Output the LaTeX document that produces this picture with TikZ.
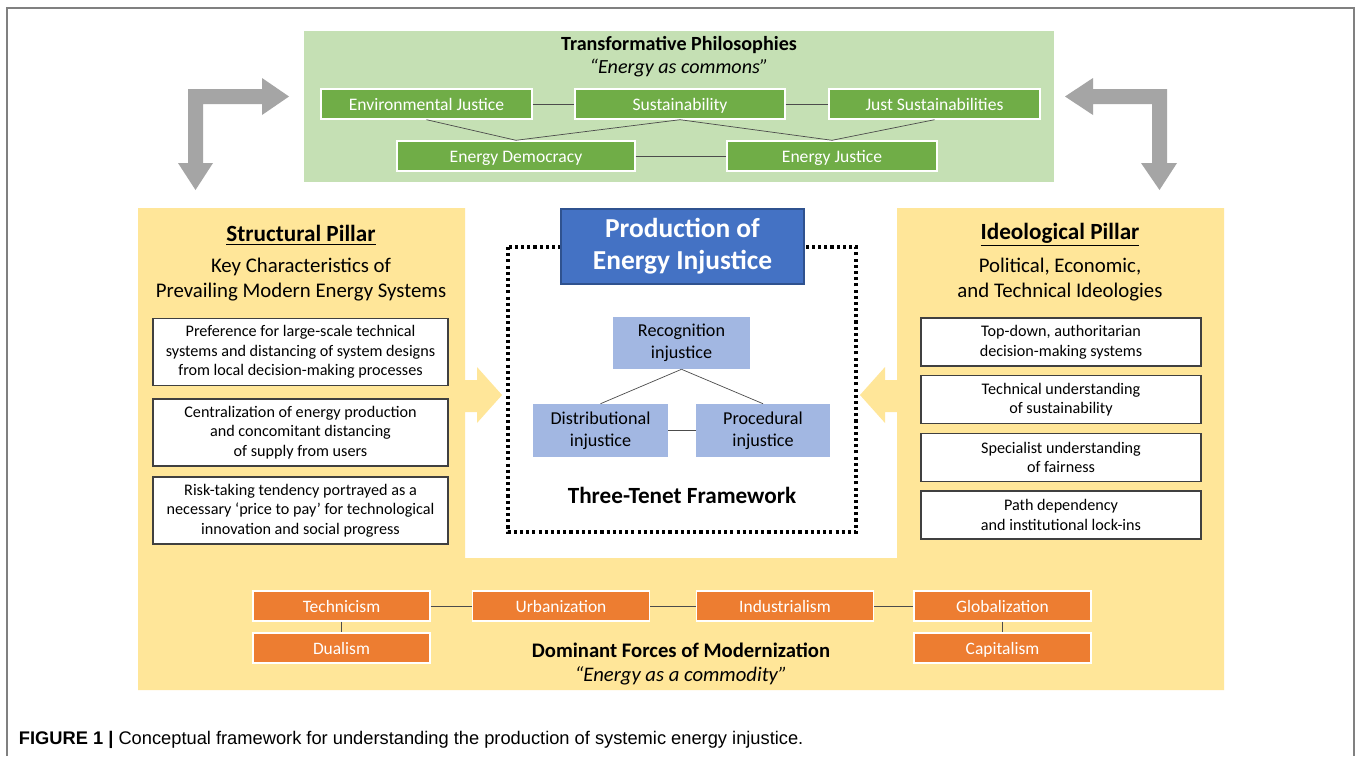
\documentclass[tikz,border=0pt]{standalone}
\usepackage{fontspec}
\setmainfont{Carlito}
\newfontfamily\capfont{Liberation Sans}
\usepackage{tikz}
\usetikzlibrary{calc}

\definecolor{commonsgreen}{HTML}{C5E0B4}
\definecolor{philgreen}{HTML}{70AD47}
\definecolor{loopgray}{HTML}{A5A5A5}
\definecolor{pillaryellow}{HTML}{FFE699}
\definecolor{injblue}{HTML}{4472C4}
\definecolor{injblueline}{HTML}{2F528F}
\definecolor{tenetblue}{HTML}{A2B7E2}
\definecolor{forceorange}{HTML}{ED7D31}

\tikzset{
    philbox/.style = {draw = white, line width = 1pt, fill = philgreen, text = white, minimum height = 0.75cm, inner sep = 0pt, text height = 2.1ex, text depth = 0.3ex, font = \fontsize{12.5}{14}\selectfont},
    forcebox/.style = {draw = white, line width = 1pt, fill = forceorange, text = white, minimum width = 4.425cm, minimum height = 0.75cm, inner sep = 0pt, text height = 2.1ex, text depth = 0.3ex, font = \fontsize{12.4}{14}\selectfont},
    charbox/.style = {draw = black!75, line width = 0.8pt, fill = white, align = center, inner sep = 0pt, font = \fontsize{11.5}{13.9}\selectfont},
    tenetbox/.style = {fill = tenetblue, align = center, inner sep = 0pt, font = \fontsize{12.9}{16}\selectfont},
    link/.style = {black!70, line width = 0.5pt}
}

\begin{document}
\begin{tikzpicture}[x = 0.025cm, y = -0.025cm]
            \useasboundingbox (0, 0) rectangle (1358, 756);
            \fill[white](0, 0) rectangle (1358, 756);
            \draw[gray, line width = 1.2pt](7, 756) -- (7, 8) -- (1354, 8) -- (1354, 756);

            \fill[commonsgreen](304, 31) rectangle (1054, 182);
            \node[font = \bfseries\fontsize{14.3}{16}\selectfont] (philtitle) at (679, 45) {Transformative Philosophies};
            \node[font = \itshape\fontsize{14.3}{16}\selectfont] (philsub) at (679, 68) {``Energy as commons''};

            \node[philbox, minimum width = 5.275cm] (envj) at (426.5, 104) {Environmental Justice};
            \node[philbox, minimum width = 5.25cm] (sust) at (680, 104) {Sustainability};
            \node[philbox, minimum width = 5.275cm] (justs) at (934.5, 104) {Just Sustainabilities};
            \node[philbox, minimum width = 5.95cm] (endem) at (516, 156) {Energy Democracy};
            \node[philbox, minimum width = 5.25cm] (enjus) at (832, 156) {Energy Justice};
            \draw[link](envj) -- (sust);
            \draw[link](sust) -- (justs);
            \draw[link](endem) -- (enjus);
            \draw[link](envj.south) -- (endem.north);
            \draw[link](sust.south) -- (endem.north);
            \draw[link](sust.south) -- (enjus.north);
            \draw[link](justs.south) -- (enjus.north);

            \fill[loopgray](188, 89) -- (262, 89) -- (262, 78) -- (289, 96.5) -- (262, 115) -- (262, 104) -- (203, 104) -- (203, 163) -- (213, 163) -- (195.5, 190) -- (178, 163) -- (188, 163) -- cycle;
            \fill[loopgray](1167, 89) -- (1093, 89) -- (1093, 78) -- (1065, 96.5) -- (1093, 115) -- (1093, 104) -- (1152, 104) -- (1152, 163) -- (1141, 163) -- (1159.5, 190) -- (1177, 163) -- (1167, 163) -- cycle;

            \fill[pillaryellow](138, 208) -- (465, 208) -- (465, 380) -- (477, 380) -- (477, 367) -- (502, 395) -- (477, 423) -- (477, 412) -- (465, 412) -- (465, 558) -- (897, 558) -- (897, 412) -- (885, 412) -- (885, 423) -- (860, 395) -- (885, 367) -- (885, 380) -- (897, 380) -- (897, 208) -- (1224, 208) -- (1224, 690) -- (138, 690) -- cycle;

            \node[font = \bfseries\fontsize{16.5}{18}\selectfont] (structtitle) at (301, 235) {\underline{Structural Pillar}};
            \node[align = center, font = \fontsize{14.8}{17.8}\selectfont] (structsub) at (301, 280) {Key Characteristics of\\Prevailing Modern Energy Systems};
            \node[charbox, minimum width = 7.375cm, minimum height = 1.675cm] (largescale) at (300.5, 352) {Preference for large-scale technical\\systems and distancing of system designs\\from local decision-making processes};
            \node[charbox, minimum width = 7.375cm, minimum height = 1.675cm] (central) at (300.5, 432.5) {Centralization of energy production\\and concomitant distancing\\of supply from users};
            \node[charbox, minimum width = 7.375cm, minimum height = 1.675cm] (risk) at (300.5, 510.5) {Risk-taking tendency portrayed as a\\necessary `price to pay' for technological\\innovation and social progress};

            \node[font = \bfseries\fontsize{16.5}{18}\selectfont] (ideotitle) at (1060, 235) {\underline{Ideological Pillar}};
            \node[align = center, font = \fontsize{14.8}{17.8}\selectfont] (ideosub) at (1060, 280) {Political, Economic,\\and Technical Ideologies};
            \node[charbox, minimum width = 7cm, minimum height = 1.2cm] (topdown) at (1061, 342) {Top-down, authoritarian\\decision-making systems};
            \node[charbox, minimum width = 7cm, minimum height = 1.2cm] (techsust) at (1061, 399.5) {Technical understanding\\of sustainability};
            \node[charbox, minimum width = 7cm, minimum height = 1.2cm] (fairness) at (1061, 457.5) {Specialist understanding\\of fairness};
            \node[charbox, minimum width = 7cm, minimum height = 1.2cm] (lockin) at (1061, 515) {Path dependency\\and institutional lock-ins};

            \draw[black, line width = 2.2pt, dash pattern = on 2.2pt off 2.2pt](508, 247) rectangle (856, 532);
            \node[draw = injblueline, line width = 0.8pt, fill = injblue, text = white, align = center, minimum width = 6.075cm, minimum height = 1.875cm, inner sep = 0pt, font = \bfseries\fontsize{19.5}{22.8}\selectfont] (production) at (682.5, 246.5) {Production of\\Energy Injustice};
            \node[tenetbox, minimum width = 3.425cm, minimum height = 1.3cm] (recog) at (681.5, 343) {Recognition\\injustice};
            \node[tenetbox, minimum width = 3.375cm, minimum height = 1.325cm] (distrib) at (600.5, 430.5) {Distributional\\injustice};
            \node[tenetbox, minimum width = 3.35cm, minimum height = 1.325cm] (proced) at (763, 430.5) {Procedural\\injustice};
            \draw[link](recog.south) -- (distrib.north);
            \draw[link](recog.south) -- (proced.north);
            \draw[link](distrib) -- (proced);
            \node[font = \bfseries\fontsize{16.5}{18}\selectfont] (tenets) at (682, 495) {Three-Tenet Framework};

            \node[forcebox] (technicism) at (341.5, 606) {Technicism};
            \node[forcebox] (urban) at (561, 606) {Urbanization};
            \node[forcebox] (industrial) at (785, 606) {Industrialism};
            \node[forcebox] (global) at (1002.5, 606) {Globalization};
            \node[forcebox] (dualism) at (341.5, 648) {Dualism};
            \node[forcebox] (capital) at (1002.5, 648) {Capitalism};
            \draw[link](technicism) -- (urban);
            \draw[link](urban) -- (industrial);
            \draw[link](industrial) -- (global);
            \draw[link](technicism) -- (dualism);
            \draw[link](global) -- (capital);
            \node[font = \bfseries\fontsize{14.7}{16}\selectfont] (forcestitle) at (681, 650) {Dominant Forces of Modernization};
            \node[font = \itshape\fontsize{14.7}{16}\selectfont] (forcessub) at (681, 676) {``Energy as a commodity''};

            \node[anchor = west, font = \capfont\fontsize{13}{15}\selectfont] (caption) at (14, 740) {\textbf{FIGURE 1 |} Conceptual framework for understanding the production of systemic energy injustice.};
        \end{tikzpicture}
\end{document}
